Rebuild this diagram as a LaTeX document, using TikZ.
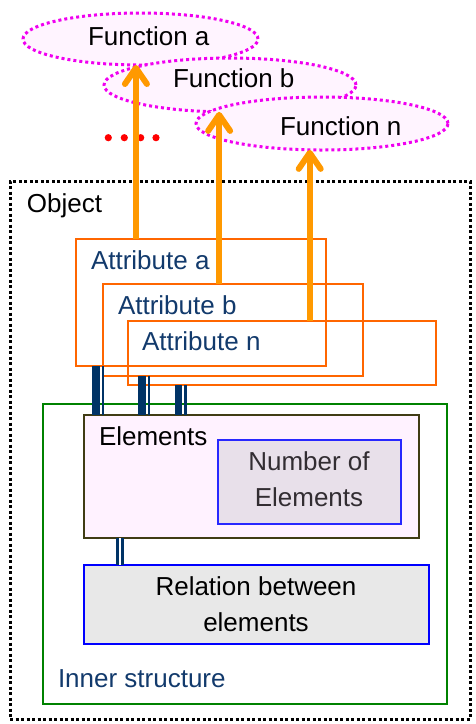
\documentclass[tikz,border=0pt]{standalone}
\usepackage{fontspec}
\setmainfont{Liberation Sans}
\usetikzlibrary{arrows.meta,shapes.geometric}

\definecolor{navy}{RGB}{18,58,108}
\definecolor{barnavy}{RGB}{0,51,102}
\definecolor{attrorange}{RGB}{255,102,0}
\definecolor{arroworange}{RGB}{255,153,0}
\definecolor{funmagenta}{RGB}{240,0,240}
\definecolor{funfill}{RGB}{255,244,255}
\definecolor{elfill}{RGB}{255,242,255}
\definecolor{elborder}{RGB}{64,60,20}
\definecolor{numfill}{RGB}{232,224,234}
\definecolor{numborder}{RGB}{40,40,255}
\definecolor{numtext}{RGB}{50,45,50}
\definecolor{relfill}{RGB}{232,232,232}
\definecolor{relborder}{RGB}{0,0,255}
\definecolor{innergreen}{RGB}{0,130,0}
\definecolor{dotred}{RGB}{255,0,0}

\begin{document}
\begin{tikzpicture}[x=1pt,y=-1pt,
  every node/.style={inner sep=0pt, outer sep=0pt, font=\fontsize{26}{36}\selectfont},
  box/.style={draw, rectangle, anchor=north west},
  objbox/.style={box, draw=black, line width=3pt, dash pattern=on 3pt off 2.5pt},
  innerbox/.style={box, draw=innergreen, line width=1.6pt},
  elbox/.style={box, draw=elborder, fill=elfill, line width=2.5pt},
  numbox/.style={box, draw=numborder, fill=numfill, line width=2pt},
  relbox/.style={box, draw=relborder, fill=relfill, line width=2.5pt},
  attrbox/.style={box, draw=attrorange, line width=2.2pt},
  fun/.style={ellipse, draw=funmagenta, fill=funfill, line width=3pt,
    dash pattern=on 3pt off 3pt},
  navytext/.style={text=navy, anchor=base west},
  blacktext/.style={text=black, anchor=base west},
  funarrow/.style={draw=arroworange, line width=6pt,
    -{Straight Barb[length=16pt, width=22pt, line cap=round, line join=round]}},
  barthick/.style={draw=barnavy, line width=7.4pt},
  barthin/.style={draw=barnavy, line width=2.6pt},
  dbllink/.style={draw=barnavy, double=white, line width=2.5pt, double distance=2.7pt}
]
\useasboundingbox (0,0) rectangle (475,724);

% object frame and inner structure
\node[objbox, minimum width=460pt, minimum height=538pt] (obj) at (10,181) {};
\node[blacktext] (objtxt) at (27,212) {Object};

\node[innerbox, minimum width=404pt, minimum height=300pt] (inner) at (43,404) {};
\node[navytext] (innertxt) at (58,687) {Inner structure};

\node[elbox, minimum width=335pt, minimum height=123pt] (el) at (84,415) {};
\node[blacktext] (eltxt) at (99,445) {Elements};

\node[numbox, minimum width=183pt, minimum height=84pt] (num) at (218,440) {};
\node[text=numtext, align=center] (numtxt) at (309,479) {Number of\\Elements};

\node[relbox, minimum width=345pt, minimum height=79pt] (rel) at (84,565) {};
\node[text=black, align=center] (reltxt) at (256,604) {Relation between\\elements};

% attribute boxes
\node[attrbox, minimum width=250pt, minimum height=127pt] (aa) at (76,239) {};
\node[attrbox, minimum width=260pt, minimum height=92pt] (ab) at (103,284) {};
\node[attrbox, minimum width=308pt, minimum height=64pt] (an) at (128,321) {};
\node[navytext] (aatxt) at (91,269) {Attribute a};
\node[navytext] (abtxt) at (118,314) {Attribute b};
\node[navytext] (antxt) at (142,350.5) {Attribute n};

% links from the attributes down to the elements
\draw[barthick] (aa.south -| 96,0) -- (el.north -| 96,0);
\draw[barthin]  (aa.south -| 102.9,0) -- (el.north -| 102.9,0);
\draw[barthick] (ab.south -| 142,0) -- (el.north -| 142,0);
\draw[barthin]  (ab.south -| 149,0) -- (el.north -| 149,0);
\draw[barthick] (an.south -| 178.3,0) -- (el.north -| 178.3,0);
\draw[barthin]  (an.south -| 185.3,0) -- (el.north -| 185.3,0);

\draw[dbllink] (el.south -| 120,0) -- (rel.north -| 120,0);

% functions
\node[fun, minimum width=235pt, minimum height=52pt] (fa) at (140.5,39) {};
\node[fun, minimum width=252pt, minimum height=54pt] (fb) at (230,85) {};
\node[fun, minimum width=252pt, minimum height=53pt] (fn) at (322,123.5) {};
\node[blacktext] (fatxt) at (88,45) {Function a};
\node[blacktext] (fbtxt) at (173,87) {Function b};
\node[blacktext] (fntxt) at (280,135) {Function n};

% ellipsis between the functions
\foreach \x in {108.3,124.3,140.7,156}
  \fill[dotred] (\x,137.7) circle (3.6pt);

% each attribute realises a function
\draw[funarrow] (fa.260 |- aa.north) -- (fa.260);
\draw[funarrow] (fb.248 |- ab.north) -- (fb.248);
\draw[funarrow] (fn.245.6 |- an.north) -- (fn.245.6);
\end{tikzpicture}
\end{document}
